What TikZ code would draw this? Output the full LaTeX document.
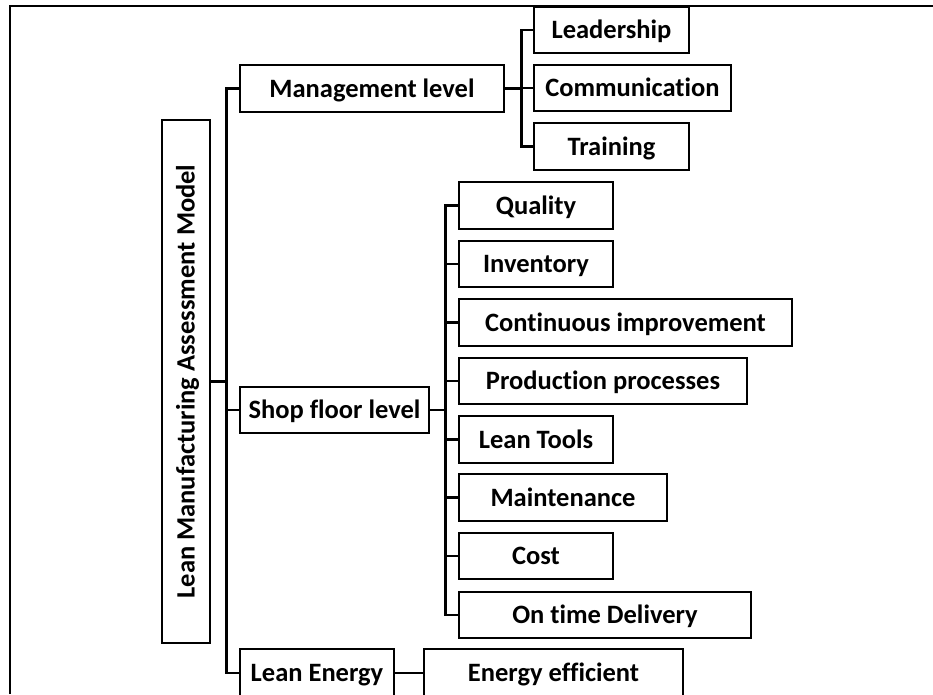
\documentclass[tikz,border=0pt]{standalone}
\usepackage{fontspec}
\setmainfont{Carlito}[RawFeature=-liga]
\begin{document}
\begin{tikzpicture}[x=1pt,y=-1pt,
  box/.style={draw=black, line width=2.8pt, inner sep=0pt, align=center,
    text height=17pt, text depth=0pt,
    font=\fontsize{26.5}{30}\selectfont\bfseries, fill=white},
  link/.style={draw=black, line width=2.6pt}]
\clip (0,0) rectangle (933,694);
\fill[white] (0,0) rectangle (933,694);
% frame
\draw[line width=2.6pt] (10,694) -- (10,6) -- (933,6);
% main
\node[box, rotate=90, minimum width=523pt, minimum height=48pt] (main) at (186,381.5) {Lean Manufacturing Assessment Model};
% level 1
\node[box, minimum width=264pt, minimum height=47pt] (mgmt) at (372,88.5) {Management level};
\node[box, minimum width=189pt, minimum height=46pt] (shop) at (334.5,410) {Shop floor level};
\node[box, minimum width=154pt, minimum height=48pt] (energy) at (317,673) {Lean Energy};
% management children
\node[box, minimum width=155pt, minimum height=46pt] (lead) at (611.5,30) {Leadership};
\node[box, minimum width=197pt, minimum height=46pt] (comm) at (632.5,88) {Communication};
\node[box, minimum width=155pt, minimum height=47pt] (train) at (611.5,146.5) {Training};
% shop floor children
\node[box, minimum width=154pt, minimum height=47pt] (q) at (536,205.5) {Quality};
\node[box, minimum width=154pt, minimum height=46pt] (inv) at (536,264) {Inventory};
\node[box, minimum width=333pt, minimum height=47pt] (ci) at (625.5,322.5) {Continuous improvement};
\node[box, minimum width=288pt, minimum height=46pt] (pp) at (603,381) {Production processes};
\node[box, minimum width=154pt, minimum height=47pt] (lt) at (536,439.5) {Lean Tools};
\node[box, minimum width=208pt, minimum height=47pt] (mt) at (563,497.5) {Maintenance};
\node[box, minimum width=154pt, minimum height=46pt] (cost) at (536,556) {Cost};
\node[box, minimum width=292pt, minimum height=46pt] (otd) at (605,615) {On time Delivery};
% energy child
\node[box, minimum width=259pt, minimum height=48pt] (eff) at (553.5,673) {Energy efficient};
% connectors
\draw[link] (main.south) -- ++(15,0) |- (mgmt.west);
\draw[link] (main.south) -- ++(15,0) |- (shop.west);
\draw[link] (main.south) -- ++(15,0) |- (energy.west);
\foreach \c in {lead,comm,train}
  \draw[link] (mgmt.east) -- ++(16,0) |- (\c.west);
\foreach \c in {q,inv,ci,pp,lt,mt,cost,otd}
  \draw[link] (shop.east) -- ++(15,0) |- (\c.west);
\draw[link] (energy.east) -- (eff.west);
\end{tikzpicture}
\end{document}
